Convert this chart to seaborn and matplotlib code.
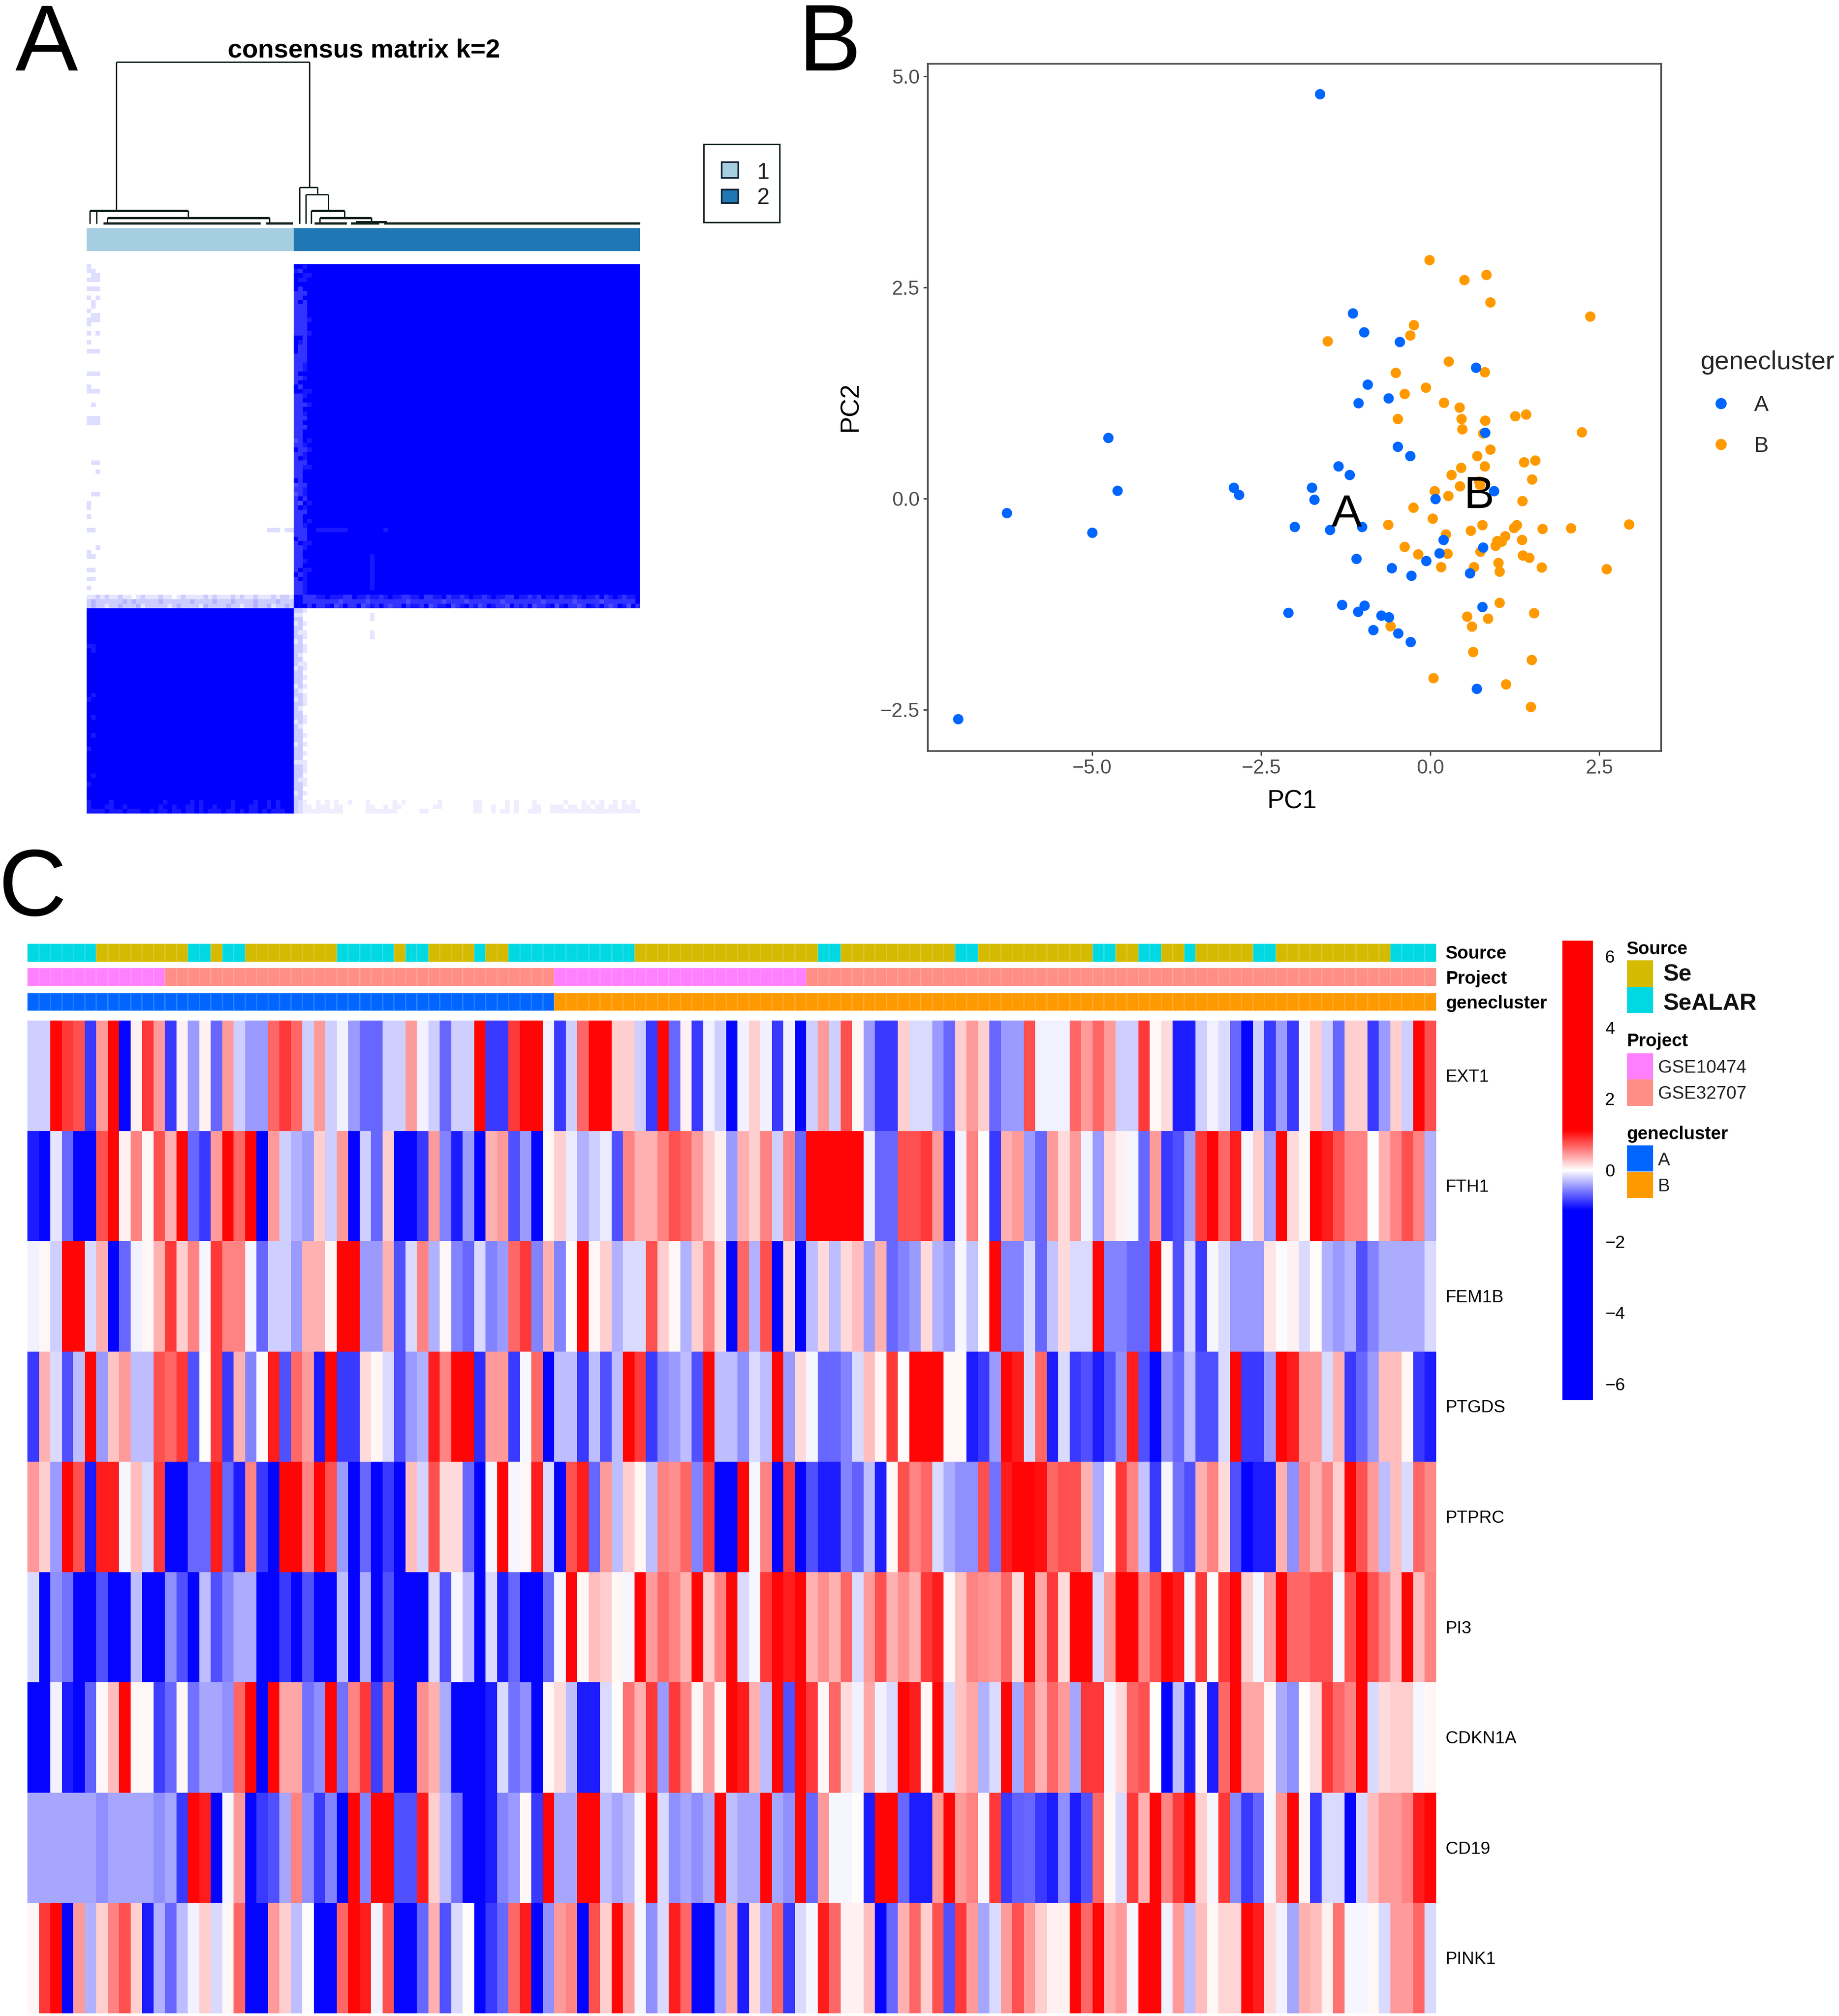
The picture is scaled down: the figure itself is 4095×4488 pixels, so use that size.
import numpy as np
import pandas as pd
import matplotlib
matplotlib.use("Agg")
import matplotlib.pyplot as plt
from matplotlib.colors import LinearSegmentedColormap, ListedColormap
from matplotlib.patches import Rectangle
import seaborn as sns

# ---------- Panel C: expression levels (-5 full blue .. 5 full red) ----------
GENES = ["EXT1", "FTH1", "FEM1B", "PTGDS", "PTPRC", "PI3", "CDKN1A", "CD19", "PINK1"]
EXT1 = [-1,-1,5,4,3.5,-4,2,5,-5,0.3, 4,2,-4,0.3,-2,0.3,-3,2,-1,-2,
        -2,3,4,3,-1,2,-1,-0.3,-2,-3, -3,-1,-1,2,-0.3,-1,-3,-1,-1,5,
        -4,-4,4,5,5,-0.3,-4,-1,3,5, 5,1,1,-1,-4,5,-3,0.3,-4,-0.3,
        -1,-5,-0.3,1,-0.3,-4,-0.3,-5,-1,2, -1,3.5,0.2,-2,-4,-4,1,-0.8,-0.8,-2,
        -3,1,2,1,-3,-2,-2,3.5,-0.3,-0.3, -0.3,3,2,3,2,-1,-1,4,0.2,0.8,
        -4.5,-4.5,-1,-0.3,-0.8,-3,-5,-1,-4,-2, -4,-0.2,1,-1,-3,1,1,-4,-2,1, -1,5,3.5]
FTH1 = [-4.5,-5,-0.5,-3,-5,-5,3.5,5,0.3,2.5, 0.2,3.5,1.5,5,-3,-4,2,5,3,5,
        -5,2,-1,-1.5,-2,1,-1,2,-5,-1, -3,1,-5,-5,-4,2,-2.5,-4.5,-2,-5,
        1.5,2,-3.5,-2,-5,0.2,1,-0.4,-1.5,-1, -0.4,-3.5,2.5,1.5,1.5,2.5,3.5,3,2,1,
        0.3,-2,1.5,1,2.5,-1,2.5,-3,5,5, 5,5,5,-0.3,-3,-3,3.5,3.5,4,2,
        -4.5,-0.3,2.5,0.1,-4,1.5,2,-2,-3,2, 0.7,2,-0.3,-2,0.7,0.3,-0.2,-3,2,-4,
        -3.5,-2,4,5,3,4.5,-0.2,1,-2,5, 0.7,0.2,5,4.5,3.5,2.5,2.5,0.1,1.5,2.5, 3.5,2.5,-1.5]
FEM1B = [-0.3,0.2,-1,5,5,-0.8,1.5,-5,-3,-0.3, 0.2,1.5,4,1,2.5,-0.2,4,2.5,2.5,-0.2,
         -3,-1,-1,-2,1.5,1.5,0.2,5,5,-2, -2,1.5,-3.5,-0.7,2.5,-1.5,0.2,-2.5,-3,-0.8,
         -2.5,-2,3,4,-2.5,1.5,-2.5,0,5,0.2, 1,-1.5,-0.8,-0.8,3.5,1,0.2,-1.5,1,2.5,
         0.7,-5,3,-1.5,3.5,-5,0.7,-5,-1.3,0.8, -1.3,0.8,1.3,-2,1.5,-3,-2.5,-2,0.8,-1.5,
         -2,-0.2,-1.2,0.1,5,-2.5,-2.5,-0.8,-3,-1.2, 0.8,-0.8,-0.8,5,-2.5,-2.5,-3,-3,5,0.2,
         -3.5,-0.8,-4,-0.2,-0.7,-2,-2,-2,0.5,-0.1, 0.3,-0.7,0.1,-1.5,-2,-1.5,-3.5,-2.5,-1.7,-1.7, -1.7,-1.7,-0.8]
PTGDS = [-4,1.5,-0.7,-3.5,-1.3,5,-2,1.2,2,-1.3, -1.3,3.5,3,4,-3.5,0.1,4,-4,1.5,-2.5,
         0.1,4.5,-3.5,3,2,-4.5,5,-4,-4,0.8, 0.2,-0.8,-3.5,-2,-1.5,4.5,2.5,5,5,-4.2,
         2,2,-4,-0.2,3,-5,-1.3,-1.3,-4,-1.3, -3.5,-1.3,5,4,-4,-2.3,-2,-1.3,-3.5,5,
         -1.3,-1.3,-2.2,-0.8,-1.3,5,-2,0.8,-0.2,-3, -3,-2.5,-0.8,1.3,0.2,4,0.1,5,5,5,
         0.2,0.2,-4.5,-4,-2,5,4.5,-0.8,3,-4.5, -0.8,-4,-3.5,-4.5,-3.5,-2.2,4.5,-3.5,-5,-2.2,
         -3,-1.3,-3.5,-3.5,-0.8,5,-4,-4,-2,5, 4.5,2,2,-0.8,1.5,-4,-3,-2,1.3,1.3, 0.2,-4,-4.5]
PTPRC = [2,1,-2,5,3.5,-4.5,4.5,4.5,-0.2,1.3, -0.8,4,-5,-5,-3,-3,4.5,-3,-4.5,2.5,
         -4,-5,5,5,2.5,5,3.5,-2,-5,-3, -5,-4,-5,1.3,-0.9,3.5,0.8,0.8,-3,-5,
         -0.2,5,-0.2,0.2,4.5,-0.8,-5,3.5,4.5,-3, 2,-1.3,1,0.2,-1.3,2.5,2.2,3,-2.5,4,
         -5,-5,5,-0.2,2.5,-5,4,-5,-3.5,-4.5, -4.5,-2.5,-3.2,-1.3,-4.5,0.2,3.5,2.5,3,-0.8,
         -1.7,-2.2,-2.2,3.5,-2.8,4.5,5,5,4.8,3, 3.5,3.5,1.5,-1.7,0.1,4,2.5,-1.2,-4,-0.2,
         -2.8,-3.5,1.5,2.5,0.8,-3.5,-5,-4.5,-4.5,1.5, -2.2,2.5,1.5,2.5,1,5,3.5,2,-1.3,1.3, -0.7,3,2.3]
PI3 = [-0.8,-5,-2.2,-2.8,-5,-5,-3.5,-5,-5,-1.3, -5,-5,-2.2,-3.5,-5,-1.3,-3.5,-2.5,-1.7,-1.7,
       -5,-5,-4,-5,-3.5,-5,-5,-1.3,-5,-1.7, -5,-3.5,-5,-5,-5,-0.8,-3.5,-0.2,-1.3,-5,
       -0.8,-4.5,-3,-5,-5,-3,-0.2,5,0.2,1.3, 1,0.2,-0.2,5,2,3,2.5,1.5,5,1,
       2.5,5,-0.8,-0.2,4,5,4.5,5,1.5,2.2, 1.5,3,-0.8,2,3.5,1.5,2.2,1.5,4,4.5,
       0.2,1.2,2.5,2.2,2,3,0.8,5,1.8,4, 0.8,5,5,-0.8,2,5,5,2.5,3.5,5,
       4.5,-0.2,4,0.1,4,5,1,-0.2,2,5, 3,3,3.5,3.5,-0.2,3.5,5,3.5,2.5,1.3, 5,1.3,2.5]
CDKN1A = [-5,-5,-0.3,-4.5,-5,-3.2,0.2,1.3,5,0.2, 0.2,-3.8,-3,0.2,-2.8,-1.8,-1.8,-2.2,3,5,
          -5,5,1.8,1.8,-2.8,-2.2,5,-2.8,2.5,4, -3.8,3,-5,-5,2.2,1.5,-1.7,-5,-5,-5,
          -4.5,-0.8,-2.8,-2.2,-5,0.2,0.8,-1.3,-4.5,-4.5, -0.8,0.1,2.8,1.5,4,-2,4,2.5,0.2,2,
          0.2,5,4.5,1.5,-1.3,5,-3.5,5,4,0.2, 3,0.8,-0.3,1.8,-0.3,-0.8,5,4.5,0.2,5,
          -0.8,1.2,1.8,-1.5,-0.8,5,-1.8,3,1.5,3, 2,-1.8,4,4,-0.2,0.8,3,3.5,0.1,-5,
          -1.3,-4.5,0.3,-4.5,3,5,1.8,1.8,0.2,-1.7, -2.2,0.1,0.8,4,3,2.5,5,-0.8,0.7,1, 1,-0.2,0.2]
CD19 = [-1.8,-1.8,-1.8,-1.8,-1.8,-1.8,-2.2,-1.8,-1.8,-1.8, -1.8,-2.2,-1.8,-4,5,4.5,-5,-0.2,2,-5,
        -4,-3.5,-1.8,2.5,-2.2,-4,-2.5,-5,5,-2.5, 5,5,-3.5,-3.5,4.5,1,-1.3,-2.8,-5,-5,
        -4.5,-2.5,-2,0.2,-4,5,-1.8,-1.8,5,5, -1.3,-1.8,-1.3,-0.2,5,-0.8,-2.2,-1.8,-2.2,-1.7,
        5,-1.3,-1.8,-1.8,5,-1.8,-2.2,5,-3,2, -0.2,-0.2,0.1,-4.5,5,5,-3,-4.5,-4.5,2,
        5,2,2.5,-0.2,4,-4,-3.2,-3,-4,-4.5, -2.2,-4.5,-3.5,3,0.2,-0.8,4,1.5,5,2.5,
        4,5,1,-0.2,4,-2.3,-4,-3,-0.2,2, 5,0.2,-4,-0.8,-0.8,-5,-0.8,1.3,2,2, 2.5,4.5,5]
PINK1 = [0.2,4,5,-5,2,-1.5,1,2.5,3.5,1, -4.5,-1.5,-3,-1.3,-0.3,1,-0.8,0.2,3,-5,
         -5,2,1,-1.3,-0.1,-5,-5,3,5,4.5, -0.3,3.5,-5,-5,-3,1.5,-3.5,-0.7,0.1,-5,
         -4,-3,3,4.5,-5,-2.2,2,2.5,-5,3.5, 1,5,2,-0.2,-2.2,-0.8,4.5,3,-5,-5,
         -1.8,1.5,-4.5,0.8,-1.5,3,-4,-0.8,-0.2,4.5, 3,0.3,0.3,1.3,-5,-3,1.5,3,1,3.5,
         -3.5,4,2,-1.8,-0.8,2,3.5,2,1,0.3, 0.3,5,3,5,1.5,2,-0.2,5,5,-0.3,
         2,-1.3,1.3,0.2,0.9,0.9,5,4.5,0.8,-0.3, -1.8,1.5,1.3,0.3,2.8,-0.2,-0.2,0.2,-0.8,2, 2,3,-0.8]
LEVEL_TO_Z = 0.22
CBAR_TICKS = [-6, -4, -2, 0, 2, 4, 6]

SOURCE_NAMES = ["Se", "SeALAR"]
SOURCE_RUNS = [(1,6),(0,8),(1,2),(0,1),(1,2),(0,8),(1,5),(0,1),(1,2),(0,4),(1,1),(0,2),(1,11),(0,16),
               (1,2),(0,10),(1,2),(0,10),(1,2),(0,2),(1,2),(0,2),(1,1),(0,5),(1,2),(0,10),(1,4)]
PROJECT_NAMES = ["GSE10474", "GSE32707"]
PROJECT_RUNS = [(0,12),(1,34),(0,22),(1,55)]
CLUSTER_NAMES = ["A", "B"]
CLUSTER_RUNS = [(0,46),(1,77)]
COL_SOURCE = ["#D4BA00", "#00D8E2"]
COL_PROJECT = ["#FF80FF", "#FF8E86"]
COL_CLUSTER = ["#0066FF", "#FF9900"]

# ---------- Panel B: PCA points ----------
A_X = [-1.63,-6.98,-6.26,-1.144,-0.978,-0.450,0.676,-0.925,-0.616,-1.061,0.812,-4.760,-0.480,-0.296,-1.357,-1.191,
       -1.749,-2.905,-2.827,-4.624,-1.713,0.943,0.077,-2.004,-1.482,-1.008,-4.997,0.196,0.782,0.136,-0.059,-1.091,
       -0.569,-0.279,0.587,-1.304,-0.972,-1.067,-2.098,-0.723,-0.611,0.771,-0.842,-0.474,-0.290,0.688]
A_Y = [4.79,-2.61,-0.17,2.194,1.970,1.856,1.551,1.351,1.188,1.131,0.781,0.720,0.615,0.505,0.383,0.281,
       0.130,0.130,0.045,0.094,-0.012,0.090,-0.004,-0.334,-0.370,-0.334,-0.403,-0.488,-0.578,-0.647,-0.737,-0.712,
       -0.822,-0.912,-0.883,-1.258,-1.266,-1.339,-1.351,-1.384,-1.404,-1.282,-1.555,-1.595,-1.697,-2.251]
B_X = [-0.012,0.504,0.830,0.889,2.365,-0.243,-0.296,-1.517,0.273,-0.510,0.806,-0.065,-0.379,0.202,0.433,0.462,
       0.812,0.474,0.782,-0.480,1.257,1.417,2.241,0.889,0.694,1.387,1.553,0.806,0.456,0.314,1.506,0.723,
       0.439,0.735,0.065,0.267,1.363,-0.249,0.036,-0.622,0.771,1.280,1.239,0.599,1.660,2.081,2.940,0.231,
       1.108,0.990,1.357,1.055,0.966,-0.379,0.741,0.255,-0.178,1.369,1.464,1.008,0.646,0.160,1.648,1.025,
       2.608,1.025,1.535,0.545,0.854,0.616,-0.587,0.634,1.500,0.047,1.120,1.488]
B_Y = [2.825,2.589,2.650,2.324,2.157,2.055,1.933,1.864,1.624,1.490,1.498,1.315,1.241,1.136,1.079,0.944,
       0.924,0.822,0.773,0.944,0.977,0.997,0.786,0.582,0.505,0.431,0.452,0.383,0.366,0.281,0.228,0.204,
       0.147,0.163,0.090,0.033,-0.028,-0.106,-0.236,-0.309,-0.313,-0.313,-0.346,-0.379,-0.358,-0.350,-0.305,-0.423,
       -0.444,-0.501,-0.488,-0.509,-0.558,-0.570,-0.627,-0.651,-0.659,-0.672,-0.700,-0.761,-0.810,-0.810,-0.814,-0.863,
       -0.834,-1.233,-1.355,-1.396,-1.420,-1.514,-1.510,-1.815,-1.909,-2.125,-2.198,-2.466]

# ---------- Panel A: consensus matrix ----------
N_GROUP2 = 77      # rows/columns in the large block
N_GROUP1 = 46
GROUP_COLOURS = ["#A6CEE3", "#1F78B4"]
FAINT_TOPLEFT = [(0,[0]),(1,[0,1]),(2,[1,2]),(3,[0,1,2]),(5,[0,1,2]),(7,[0,2]),(8,[1]),(9,[1]),(10,[0]),
                 (11,[1,2]),(12,[0,1,2]),(13,[0]),(15,[0,2]),(17,[0]),(19,[0,1,2]),(24,[0,1,2]),(27,[0]),
                 (28,[0,1,2]),(31,[1]),(34,[0,1,2]),(35,[0,1,2]),(44,[1,2]),(46,[2]),(51,[1,2]),(53,[0]),
                 (54,[0]),(56,[0]),(59,[0,1,40,41,42,44,45]),(63,[2]),(64,[0]),(65,[0,1]),(68,[0,1]),
                 (70,[0,1]),(72,[0])]
# strings: one base-36 digit per cell, tenths of consensus
COL46_TOP = "a9aaaa8888888888aaaa8888888aa8888888888" + "78a888888a7878" + "88888888a8888888a88888"
COL47_TOP = "a8a9a888a8888888a9888888a8a8a88888888888" + "888a88888888a" + "7a8888888a88888a8a88"
COL48_TOP = "9a99aa8a8888888888888899a9aa99a8a98a8aaa" + "989989aaa8998a" + "98aa988899aa9a99"
COL49_TOP = "aa9aaaaaaaaa9aa9aaaaaaaaaaaa9aa9aaaaaaa" + "9a9aaa9aaaaaaa" + "9aaa9aaaa9aaaaa9aaa"
BAND74 = "1121211211012111211012111121211121211211121221" + "9988899a99988a9989989a998899a8899a89989a9989a9988a99898a99a89989a998a89a9899a"
BAND75 = "2322222232322222322222232222322232222322223222" + "8a88888888788888788888888788888887888878888888788888888788888878888878888888a"
BAND76 = "2322122322231222221232222132222322122322312232" + "a9a8a889a78a88a7898a8788a8998a7899a789a8978a9887a898a7889a79a8878a98a878a97a8"
COL46_BOT = "2121222122222122212212222122221222122222212222"
COL47_BOT = "2122212222121222221222122212222222122212222122"
COL48_BOT = "1001011011001101010111001100101010111011010110"
COL0_BOT = "aaaaaaaa9aaaaaaaaaaa9aaaaaaaaaa9aaaaaaa9aaaaa9"
COL1_BOT = "aaaaaaaa99aaaaaaaaa9aaaa9aaa9aaaaaaaa9aaaaaa99"
R120_LEFT = "9aaaa9aaaaaaaaaaa9aaaaa9a9aaaaaa9aaaa9aa9a9aaa"
R121_LEFT = "9aaa99aa9aaaaaaa9aa9aa99a9aa9aaa9aaa99aa9a9aaa"
R122_LEFT = "9999a999a999aa9a99a99a99a9a999a99a9a99a9a999aa"
R120_RIGHT = "2100101010010001000001010000000100000001100000101000100000010001010100101010"
R121_RIGHT = "2110111011000001100101100000001100000001100100101000110011101101101101101110"
R122_RIGHT = "2111111111000001111111000001100000000001100101101001110011111111111111111111"
DENDRO_SEGMENTS = [(6.6,49.5,1,1),(6.6,6.6,1,0.081),(49.5,49.5,1,0.224),(0.7,22.6,0.081,0.081),(0.7,0.7,0.081,0),
                   (2.2,2.2,0.081,0),(22.6,22.6,0.081,0.037),(4.6,40.6,0.037,0.037),(4.6,4.6,0.037,0.004),
                   (40.6,40.6,0.037,0),(3.7,38.6,0.004,0.004),(39.8,45.8,0.004,0.004),(47.3,51.3,0.224,0.224),
                   (47.3,47.3,0.224,0),(51.3,51.3,0.224,0.18),(48.7,53.7,0.18,0.18),(48.7,48.7,0.18,0),
                   (53.7,53.7,0.18,0.081),(49.9,57.3,0.081,0.081),(49.9,49.9,0.081,0),(57.3,57.3,0.081,0.037),
                   (51.8,63.3,0.037,0.037),(51.8,51.8,0.037,0),(63.3,63.3,0.037,0.012),(59.8,66.7,0.012,0.012),
                   (50.6,57.8,0.003,0.003),(58.7,65,0.003,0.003),(66.1,123,0.003,0.003)]

# ---------- figure set-up ----------
W, H = 4095, 4488
sns.set_theme(style="white")
plt.rcParams["font.family"] = ["Liberation Sans", "DejaVu Sans"]
fig = plt.figure(figsize=(W / 100, H / 100), dpi=100, facecolor="white")


def box(x0, y0, x1, y1):
    return fig.add_axes([x0 / W, 1 - y1 / H, (x1 - x0) / W, (y1 - y0) / H])


def label(x, y, s, size, **kw):
    kw.setdefault("va", "center")
    kw.setdefault("ha", "left")
    kw.setdefault("color", "black")
    fig.text(x / W, 1 - y / H, s, fontsize=size, **kw)


def expand(runs):
    return [c for c, n in runs for _ in range(n)]


def digits(s, n):
    return np.array([int(ch, 36) / 10 for ch in s.ljust(n, s[-1])[:n]])


# ---------- Panel C ----------
rows = [EXT1, FTH1, FEM1B, PTGDS, PTPRC, PI3, CDKN1A, CD19, PINK1]
for g, r in zip(GENES, rows):
    assert len(r) == 123, (g, len(r))
expr = pd.DataFrame(np.array(rows) * LEVEL_TO_Z, index=GENES)
zmin, zmax = -6.45, 6.45
sat = 1.12
nodes = [0, (-sat - zmin) / (zmax - zmin), 0.5, (sat - zmin) / (zmax - zmin), 1]
cmap = LinearSegmentedColormap.from_list("bwr_sat", list(zip(nodes, ["#0000FF", "#0000FF", "#FFFFFF", "#FF0000", "#FF0000"])), N=512)

HX0, HX1 = 61, 3198
ax_h = box(HX0, 2272, HX1, 4482)
cax = box(3478.5, 2093.5, 3546.6, 3116.7)
sns.heatmap(expr, ax=ax_h, cmap=cmap, vmin=zmin, vmax=zmax, cbar_ax=cax, xticklabels=False, yticklabels=False,
            cbar_kws={"ticks": CBAR_TICKS})
ax_h.set_ylabel("")
cax.tick_params(length=0, pad=20, labelsize=28, labelcolor="black")
ax_h.collections[0].colorbar.outline.set_visible(False)
row_h = (4482 - 2272) / 9
for i, g in enumerate(GENES):
    label(3219, 2275 + row_h * (i + 0.5), g, 28)

tracks = [("Source", SOURCE_RUNS, COL_SOURCE, 2101, 2141, 2123),
          ("Project", PROJECT_RUNS, COL_PROJECT, 2155, 2195, 2179),
          ("genecluster", CLUSTER_RUNS, COL_CLUSTER, 2209.5, 2250, 2234)]
for name, runs, cols, y0, y1, ty in tracks:
    a = box(HX0, y0, HX1, y1)
    sns.heatmap(np.array([expand(runs)]), ax=a, cmap=ListedColormap(cols), vmin=0, vmax=1, cbar=False,
                xticklabels=False, yticklabels=False, linewidths=1.0, linecolor=(1, 1, 1, 0.12))
    label(3219, ty, name, 29, fontweight="bold")

leg = box(0, 0, W, H)
leg.set_xlim(0, W); leg.set_ylim(H, 0); leg.axis("off"); leg.patch.set_alpha(0)
label(3622, 2113, "Source", 29, fontweight="bold")
label(3622, 2317.6, "Project", 29, fontweight="bold")
label(3622, 2524.6, "genecluster", 29, fontweight="bold")
for y0, c in [(2138, COL_SOURCE[0]), (2196.5, COL_SOURCE[1]), (2344.7, COL_PROJECT[0]), (2403, COL_PROJECT[1]),
              (2549.6, COL_CLUSTER[0]), (2608.5, COL_CLUSTER[1])]:
    leg.add_patch(Rectangle((3622.6, y0), 58.4, 58.5, color=c, lw=0))
label(3704, 2170, SOURCE_NAMES[0], 37.5, fontweight="bold", color="#111111")
label(3704, 2235, SOURCE_NAMES[1], 37.5, fontweight="bold", color="#111111")
label(3692, 2377, PROJECT_NAMES[0], 29, color="#222222")
label(3692, 2435.5, PROJECT_NAMES[1], 29, color="#222222")
label(3692, 2583, CLUSTER_NAMES[0], 29, color="#222222")
label(3692, 2641, CLUSTER_NAMES[1], 29, color="#222222")

# ---------- Panel A ----------
n = N_GROUP1 + N_GROUP2
cons = np.zeros((n, n))
cons[:N_GROUP2, N_GROUP1:] = 1.0
cons[N_GROUP2:, :N_GROUP1] = 1.0
for r, cs in FAINT_TOPLEFT:
    for c in cs:
        cons[r, c] = 0.13
cons[59, 51:58] = 0.9
cons[59, 66] = 0.9
cons[65:73, 63] = 0.9
cons[[78, 79, 82, 83], 63] = 0.1
cons[:74, 46] = digits(COL46_TOP, 74)
cons[:74, 47] = digits(COL47_TOP, 74)
cons[:74, 48] = digits(COL48_TOP, 74)
cons[:74, 49] = digits(COL49_TOP, 74)
cons[74] = digits(BAND74, n)
cons[75] = digits(BAND75, n)
cons[76] = digits(BAND76, n)
cons[74:77, 46:48] = 0.97
cons[76, 46] = 1.0
cons[N_GROUP2:, 46] = digits(COL46_BOT, N_GROUP1)
cons[N_GROUP2:, 47] = digits(COL47_BOT, N_GROUP1)
cons[N_GROUP2:, 48] = digits(COL48_BOT, N_GROUP1)
cons[N_GROUP2:, 0] = digits(COL0_BOT, N_GROUP1)
cons[N_GROUP2:, 1] = digits(COL1_BOT, N_GROUP1)
cons[120, :46] = digits(R120_LEFT, 46)
cons[121, :46] = digits(R121_LEFT, 46)
cons[122, :46] = digits(R122_LEFT, 46)
cons[120, 47:] = digits(R120_RIGHT, 76) * 0.7
cons[121, 47:] = digits(R121_RIGHT, 76) * 0.7
cons[122, 47:] = digits(R122_RIGHT, 76) * 0.7

ax_m = box(193, 588, 1425, 1811)
sns.heatmap(cons, ax=ax_m, cmap=LinearSegmentedColormap.from_list("wb", ["#FFFFFF", "#0000FF"]), vmin=0, vmax=1,
            cbar=False, xticklabels=False, yticklabels=False)
ax_g = box(193, 508, 1425, 559)
sns.heatmap(np.array([[0] * N_GROUP1 + [1] * N_GROUP2]), ax=ax_g, cmap=ListedColormap(GROUP_COLOURS), vmin=0, vmax=1,
            cbar=False, xticklabels=False, yticklabels=False)
ax_d = box(193, 138, 1425, 498)
ax_d.set_xlim(0, n); ax_d.set_ylim(0, 1); ax_d.axis("off")
for x0, x1, h0, h1 in DENDRO_SEGMENTS:
    lw = 3.6 if h0 < 0.1 and h0 == h1 else 2.2
    ax_d.plot([x0, x1], [h0, h1], color="#0B1F18", lw=lw, solid_capstyle="butt", clip_on=False)
label(810, 113, "consensus matrix k=2", 41.7, fontweight="bold", ha="center")
leg.add_patch(Rectangle((1567, 321), 169, 174, fill=False, ec="#0B1F18", lw=2.4))
leg.add_patch(Rectangle((1607, 361), 37, 35, fc=GROUP_COLOURS[0], ec="#102030", lw=2.6))
leg.add_patch(Rectangle((1607, 422), 37, 30, fc=GROUP_COLOURS[1], ec="#102030", lw=2.6))
label(1699, 385, "1", 36, ha="center", color="#222222")
label(1699, 441, "2", 36, ha="center", color="#222222")

# ---------- Panel B ----------
ax_p = box(2066, 142, 3699, 1672)
pca = pd.DataFrame({"PC1": B_X + A_X, "PC2": B_Y + A_Y,
                    "genecluster": ["B"] * len(B_X) + ["A"] * len(A_X)})
sns.scatterplot(data=pca, x="PC1", y="PC2", hue="genecluster", hue_order=CLUSTER_NAMES,
                palette=dict(zip(CLUSTER_NAMES, COL_CLUSTER)), s=275, linewidth=0, ax=ax_p)
ax_p.set_xlim(-7.43, 3.413)
ax_p.set_ylim(-2.987, 5.15)
ax_p.set_xticks([-5, -2.5, 0, 2.5], ["\u22125.0", "\u22122.5", "0.0", "2.5"])
ax_p.set_yticks([-2.5, 0, 2.5, 5], ["\u22122.5", "0.0", "2.5", "5.0"])
ax_p.tick_params(length=7, width=2.2, color="#444444", labelsize=32, labelcolor="#4D4D4D", pad=6,
                 bottom=True, left=True)
for sp in ax_p.spines.values():
    sp.set_visible(True); sp.set_color("#555555"); sp.set_linewidth(2.8)
ax_p.set_xlabel(""); ax_p.set_ylabel("")
label(2877, 1785, "PC1", 41, ha="center")
label(1894, 906, "PC2", 41, ha="center", rotation=90)
ax_p.text(-1.24, -0.19, "A", fontsize=73, ha="center", va="center", color="black")
ax_p.text(0.72, 0.03, "B", fontsize=73, ha="center", va="center", color="black")
sns.move_legend(ax_p, loc="upper left", bbox_to_anchor=(3787 / W, 1 - 780 / H), bbox_transform=fig.transFigure,
                title="genecluster", frameon=False, fontsize=35, title_fontsize=41.5, alignment="left",
                borderpad=0, borderaxespad=0, labelspacing=0.95, handlelength=1.84, handletextpad=0.6,
                markerscale=1.08)

# ---------- Panel letters ----------
label(34, 157, "A", 151, va="baseline")
label(1778, 157, "B", 151, va="baseline")
label(-4, 2038, "C", 151, va="baseline")

fig.savefig("out.png", dpi=100, facecolor="white")
